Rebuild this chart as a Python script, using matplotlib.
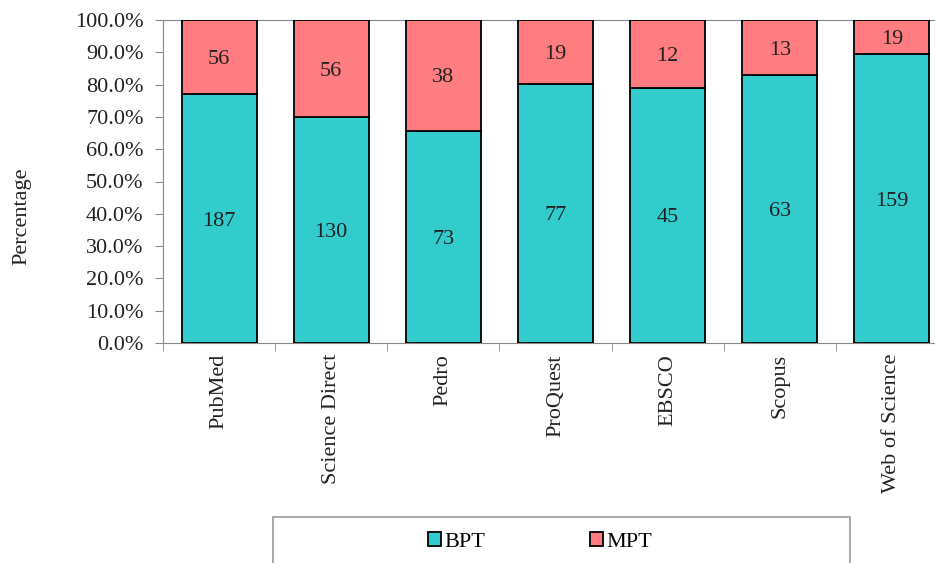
import matplotlib.pyplot as plt
from matplotlib.patches import Patch, Rectangle
import numpy as np

# Data
databases = ['PubMed', 'Science Direct', 'Pedro', 'ProQuest', 'EBSCO', 'Scopus', 'Web of Science']
bpt = [187, 130, 73, 77, 45, 63, 159]
mpt = [56, 56, 38, 19, 12, 13, 19]

teal = '#33CCCC'
salmon = '#FF7C80'

plt.rcParams['font.family'] = ['Liberation Serif', 'DejaVu Serif']

bpt_arr = np.array(bpt, dtype=float)
mpt_arr = np.array(mpt, dtype=float)
total = bpt_arr + mpt_arr
bpt_pct = bpt_arr / total * 100
mpt_pct = mpt_arr / total * 100

fig = plt.figure(figsize=(9.35, 5.63), dpi=100)
ax = fig.add_axes([163 / 935, 1 - 343 / 563, 785 / 935, 323 / 563])

x = np.arange(len(databases))
ax.bar(x, bpt_pct, width=0.67, color=teal, edgecolor='black', linewidth=1.3, zorder=3)
ax.bar(x, mpt_pct, width=0.67, bottom=bpt_pct, color=salmon, edgecolor='black', linewidth=1.3, zorder=3)

# Count labels in the middle of each segment
for i in range(len(databases)):
    ax.text(x[i], bpt_pct[i] / 2, str(bpt[i]), ha='center', va='center_baseline', fontsize=16, color='#222222', zorder=4)
    ax.text(x[i], bpt_pct[i] + mpt_pct[i] / 2, str(mpt[i]), ha='center', va='center_baseline', fontsize=16, color='#222222', zorder=4)

ax.set_xlim(-0.5, len(databases) - 0.5)
ax.set_ylim(0, 100)
ax.set_yticks(np.arange(0, 101, 10))
ax.set_yticklabels([f'{v:.1f}%' for v in np.arange(0, 101, 10)], fontsize=16, color='#222222')

# category labels at centers, tick marks at the boundaries
ax.set_xticks(x)
ax.set_xticklabels(databases, rotation=90, fontsize=16, color='#222222')
ax.tick_params(axis='x', length=0, pad=8)
ax.set_xticks(np.arange(-0.5, len(databases), 1), minor=True)
ax.tick_params(axis='x', which='minor', length=6, color='#888888')
ax.tick_params(axis='y', length=6, color='#888888', pad=8)

for side in ['left', 'bottom', 'top']:
    ax.spines[side].set_color('#888888')
ax.spines['right'].set_visible(False)

fig.text(22 / 935, 1 - 216 / 563, 'Percentage', rotation=90, ha='center', va='center', fontsize=16, color='#222222')

# Legend box
fig.patches.append(Rectangle((273 / 935, -0.05), (850 - 273) / 935, 0.05 + (563 - 517) / 563,
                             transform=fig.transFigure, facecolor='white', edgecolor='#999999', linewidth=1.2))
handles = [Patch(facecolor=teal, edgecolor='black', linewidth=1.3, label='BPT'),
           Patch(facecolor=salmon, edgecolor='black', linewidth=1.3, label='MPT')]
fig.legend(handles=handles, loc='center', bbox_to_anchor=(540 / 935, 1 - 542 / 563), ncol=2, frameon=False,
           fontsize=16, handlelength=0.6, handleheight=0.6, handletextpad=0.15, columnspacing=4.7)

plt.savefig('out.png', dpi=100)
